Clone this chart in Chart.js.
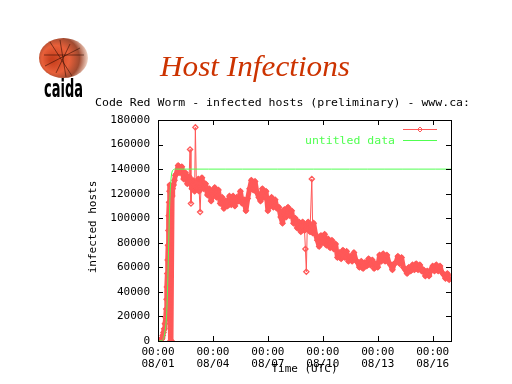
<!DOCTYPE html>
<html>
<head>
<meta charset="utf-8">
<script src="https://cdn.jsdelivr.net/npm/chart.js@4/dist/chart.umd.min.js"></script>
<style>
  html, body { margin: 0; padding: 0; background: #fff; }
  #wrap { position: relative; width: 512px; height: 384px; }
  canvas { position: absolute; left: 0; top: 0; }
</style>
</head>
<body>
<div id="wrap"><canvas id="c" width="512" height="384"></canvas></div>
<script>
// ---- Data ----
const mainTitle = 'Host Infections';
const subTitle = 'Code Red Worm - infected hosts (preliminary) - www.ca:';
const xAxisTitle = 'Time (UTC)';
const yAxisTitle = 'infected hosts';

// x in days since 08/01 00:00 UTC
const xTickDays  = [0, 3, 6, 9, 12, 15];
const xTickTimes = ['00:00', '00:00', '00:00', '00:00', '00:00', '00:00'];
const xTickDates = ['08/01', '08/04', '08/07', '08/10', '08/13', '08/16'];
const yTickValues = [0, 20000, 40000, 60000, 80000, 100000, 120000, 140000, 160000, 180000];

const hostsLabel = '';
const hostDays = [
  0.00, 0.06, 0.12, 0.18, 0.22, 0.26, 0.30, 0.34, 0.38, 0.42, 0.45, 0.47, 0.49, 0.51, 0.53,
  0.55, 0.57, 0.59, 0.61, 0.63, 0.65, 0.68, 0.71, 0.74, 0.77, 0.80, 0.85, 0.90, 0.95,
  1.0, 1.1, 1.2, 1.3, 1.4, 1.5, 1.6, 1.7, 1.75, 1.8, 1.85, 1.9, 2.0, 2.04, 2.1, 2.2, 2.25, 2.3, 2.35,
  2.4, 2.5, 2.6, 2.7, 2.8, 2.9, 3.0, 3.1, 3.2, 3.3, 3.4, 3.5, 3.6, 3.7, 3.8, 3.9,
  4.0, 4.1, 4.2, 4.3, 4.4, 4.5, 4.6, 4.7, 4.8, 4.9, 5.0, 5.1, 5.2, 5.3, 5.4, 5.5, 5.6, 5.7, 5.8, 5.9,
  6.0, 6.1, 6.2, 6.3, 6.4, 6.5, 6.6, 6.7, 6.8, 6.9, 7.0, 7.1, 7.2, 7.3, 7.4, 7.5, 7.6, 7.7, 7.8, 7.9,
  8.0, 8.05, 8.1, 8.15, 8.2, 8.3, 8.4, 8.45, 8.5, 8.6, 8.7, 8.8, 8.9,
  9.0, 9.1, 9.2, 9.3, 9.4, 9.5, 9.6, 9.7, 9.8, 9.9,
  10.0, 10.1, 10.2, 10.3, 10.4, 10.5, 10.6, 10.7, 10.8, 10.9,
  11.0, 11.1, 11.2, 11.3, 11.4, 11.5, 11.6, 11.7, 11.8, 11.9,
  12.0, 12.1, 12.2, 12.3, 12.4, 12.5, 12.6, 12.7, 12.8, 12.9,
  13.0, 13.1, 13.2, 13.3, 13.4, 13.5, 13.6, 13.7, 13.8, 13.9,
  14.0, 14.1, 14.2, 14.3, 14.4, 14.5, 14.6, 14.7, 14.8, 14.9,
  15.0, 15.1, 15.2, 15.3, 15.4, 15.5, 15.6, 15.7, 15.8, 15.9, 15.95
];
const hostCounts = [
  0, 300, 600, 1200, 2500, 4500, 7000, 10000, 14000, 19000, 26000, 34000, 44000, 55000, 66000,
  78000, 90000, 102000, 113000, 122000, 127000, 0, 0, 0, 118000, 124000, 127000, 131000, 135000,
  136000, 143000, 137000, 142000, 132000, 137000, 128000, 134000, 156000, 112000, 124000, 131000, 122000, 174000, 125000, 132000, 122000, 105000, 126000,
  133000, 124000, 128000, 119000, 124000, 114000, 120000, 125000, 117000, 123000, 112000, 117000, 108000, 114000, 110000, 118000,
  111000, 118000, 110000, 117000, 114000, 122000, 112000, 115000, 106000, 116000, 124000, 131000, 123000, 130000, 121000, 117000, 114000, 124000, 117000, 122000,
  106000, 112000, 117000, 109000, 115000, 108000, 109000, 101000, 96000, 107000, 101000, 109000, 102000, 106000, 96000, 100000, 92000, 97000, 89000, 97000,
  90000, 75000, 56400, 92000, 97000, 89000, 132000, 88000, 96000, 87000, 82000, 77000, 86000,
  80000, 87000, 78000, 83000, 76000, 82000, 75000, 79000, 68000, 72000,
  67000, 74000, 68000, 73000, 65000, 69000, 65000, 72000, 66000, 64000,
  60000, 65000, 59000, 64000, 61000, 67000, 62000, 66000, 59000, 63000,
  60000, 70000, 65000, 71000, 65000, 70000, 64000, 62000, 58000, 63000,
  64000, 69000, 63000, 68000, 60000, 58000, 55000, 60000, 57000, 62000,
  58000, 63000, 58000, 62000, 57000, 58000, 53000, 57000, 53000, 58000,
  61000, 57000, 62000, 57000, 61000, 56000, 54000, 51000, 55000, 50000, 52000
];
// isolated single-sample spikes/dips (drawn thin, not part of the dense band)
const spikeDays = [1.75, 1.8, 2.04, 2.3, 8.05, 8.1, 8.4];

const fitLabel = 'untitled data';
const fitDays  = [0, 0.1, 0.2, 0.27, 0.32, 0.37, 0.42, 0.46, 0.5, 0.55, 0.6, 0.64, 0.69, 0.74, 0.8, 0.9, 1.0, 16];
const fitHosts = [0, 100, 300, 1000, 3000, 6500, 12000, 18000, 32000, 58000, 90000, 112000, 128000, 136000, 139000, 140000, 140000, 140000];

// ---- Styles ----
const RED = 'rgb(255,88,88)';
const GREEN = 'rgb(80,255,80)';
const MONO = "'DejaVu Sans Mono', monospace";

const toPoints = (xs, ys) => xs.map((x, i) => ({ x: x, y: ys[i] }));

function fitText(ctx, text, x, y, width) {
  const w = ctx.measureText(text).width;
  ctx.save();
  ctx.translate(x, y);
  ctx.scale(width / w, 1);
  ctx.fillText(text, 0, 0);
  ctx.restore();
}

const decorPlugin = {
  id: 'decor',
  beforeDraw(chart) {
    const ctx = chart.ctx;
    ctx.save();
    ctx.fillStyle = '#fff';
    ctx.fillRect(0, 0, chart.width, chart.height);
    ctx.restore();
  },
  afterDraw(chart) {
    const ctx = chart.ctx;
    const a = chart.chartArea;
    const xs = chart.scales.x, ys = chart.scales.y;
    ctx.save();
    // frame
    ctx.strokeStyle = '#000';
    ctx.lineWidth = 1;
    ctx.strokeRect(Math.round(a.left) + 0.5, Math.round(a.top) + 0.5,
                   Math.round(a.right - a.left), Math.round(a.bottom - a.top));
    // inward ticks, mirrored
    ctx.beginPath();
    const L = 5;
    xTickDays.forEach(v => {
      const px = Math.round(xs.getPixelForValue(v)) + 0.5;
      ctx.moveTo(px, a.bottom); ctx.lineTo(px, a.bottom - L);
      ctx.moveTo(px, a.top); ctx.lineTo(px, a.top + L);
    });
    yTickValues.forEach(v => {
      const py = Math.round(ys.getPixelForValue(v)) + 0.5;
      ctx.moveTo(a.left, py); ctx.lineTo(a.left + L, py);
      ctx.moveTo(a.right, py); ctx.lineTo(a.right - L, py);
    });
    ctx.stroke();

    // legend (gnuplot style, inside top right)
    const lx0 = 403, lx1 = 437;
    ctx.strokeStyle = RED;
    ctx.beginPath(); ctx.moveTo(lx0, 129.5); ctx.lineTo(lx1, 129.5); ctx.stroke();
    ctx.beginPath();
    ctx.moveTo(420, 127); ctx.lineTo(422.5, 129.5); ctx.lineTo(420, 132); ctx.lineTo(417.5, 129.5); ctx.closePath();
    ctx.stroke();
    ctx.fillStyle = RED; ctx.font = '11px ' + MONO; ctx.textAlign = 'right'; ctx.textBaseline = 'middle';
    ctx.fillText(chart.data.datasets[0].label, 396, 129.5);
    ctx.strokeStyle = GREEN;
    ctx.beginPath(); ctx.moveTo(lx0, 140.5); ctx.lineTo(lx1, 140.5); ctx.stroke();
    ctx.fillStyle = GREEN;
    ctx.textAlign = 'left';
    fitText(ctx, chart.data.datasets[2].label, 305, 141, 90);

    // axis titles
    ctx.fillStyle = '#000';
    ctx.textAlign = 'center';
    ctx.fillText(xAxisTitle, (a.left + a.right) / 2, 369);
    ctx.save();
    ctx.translate(93, 227);
    ctx.rotate(-Math.PI / 2);
    ctx.fillText(yAxisTitle, 0, 0);
    ctx.restore();

    // subtitle
    ctx.font = '11px ' + MONO;
    ctx.textAlign = 'left';
    fitText(ctx, subTitle, 95, 103, 375);

    // main title
    ctx.font = "italic 30px 'Liberation Serif', 'DejaVu Serif', serif";
    ctx.fillStyle = '#cc3300';
    ctx.textAlign = 'left';
    ctx.textBaseline = 'alphabetic';
    fitText(ctx, mainTitle, 160, 76, 190);

    // logo
    const g = ctx.createRadialGradient(52, 60, 2, 60, 58, 28);
    g.addColorStop(0, '#c8401e');
    g.addColorStop(0.45, '#e8603a');
    g.addColorStop(0.75, '#a04a30');
    g.addColorStop(1, '#f3d6c8');
    ctx.fillStyle = g;
    ctx.beginPath();
    ctx.ellipse(63.5, 58, 24.5, 20, 0, 0, Math.PI * 2);
    ctx.fill();
    ctx.strokeStyle = 'rgba(40,10,0,0.55)';
    ctx.beginPath();
    ctx.moveTo(50, 42); ctx.lineTo(72, 76);
    ctx.moveTo(44, 55); ctx.lineTo(84, 55);
    ctx.moveTo(60, 40); ctx.lineTo(66, 77);
    ctx.moveTo(70, 44); ctx.lineTo(56, 73);
    ctx.moveTo(45, 66); ctx.lineTo(80, 48);
    ctx.stroke();
    ctx.save();
    ctx.fillStyle = '#000';
    ctx.font = "bold 18px 'DejaVu Sans Condensed', 'DejaVu Sans', sans-serif";
    ctx.textAlign = 'left';
    ctx.textBaseline = 'alphabetic';
    const cw = ctx.measureText('caida').width;
    ctx.translate(44, 97);
    ctx.scale(39 / cw, 1.35);
    ctx.fillText('caida', 0, 0);
    ctx.restore();

    ctx.restore();
  }
};

const hostPoints = toPoints(hostDays, hostCounts);
const bandPoints = hostPoints.filter(p => !spikeDays.includes(p.x));

new Chart(document.getElementById('c'), {
  type: 'scatter',
  data: {
    datasets: [
      {
        label: hostsLabel,
        data: hostPoints,
        showLine: true,
        borderColor: RED,
        borderWidth: 1,
        pointStyle: 'rectRot',
        pointRadius: 2.6,
        pointBorderColor: RED,
        pointBackgroundColor: 'rgba(0,0,0,0)',
        pointBorderWidth: 1.3,
        tension: 0,
        order: 2
      },
      {
        label: '',
        data: bandPoints,
        showLine: true,
        borderColor: RED,
        borderWidth: 5,
        borderJoinStyle: 'round',
        pointRadius: 0,
        tension: 0,
        order: 3
      },
      {
        label: fitLabel,
        data: toPoints(fitDays, fitHosts),
        showLine: true,
        borderColor: GREEN,
        borderWidth: 1,
        pointRadius: 0,
        tension: 0.3,
        order: 1
      }
    ]
  },
  options: {
    responsive: false,
    animation: false,
    devicePixelRatio: 1,
    layout: { padding: { top: 120, right: 61, left: 0, bottom: 0 } },
    plugins: { legend: { display: false }, tooltip: { enabled: false } },
    scales: {
      x: {
        type: 'linear',
        min: 0, max: 16,
        grid: { display: false, drawTicks: false },
        border: { display: false },
        afterFit: s => { s.height = 43; },
        afterBuildTicks: s => { s.ticks = xTickDays.map(v => ({ value: v })); },
        ticks: {
          padding: 5,
          maxRotation: 0,
          autoSkip: false,
          color: '#000',
          font: { family: MONO, size: 11, lineHeight: 1.1 },
          callback: v => {
            const i = xTickDays.indexOf(v);
            return i >= 0 ? [xTickTimes[i], xTickDates[i]] : '';
          }
        }
      },
      y: {
        min: 0, max: 180000,
        grid: { display: false, drawTicks: false },
        border: { display: false },
        afterFit: s => { s.width = 158; },
        afterBuildTicks: s => { s.ticks = yTickValues.map(v => ({ value: v })); },
        ticks: {
          padding: 8,
          color: '#000',
          font: { family: MONO, size: 11 },
          callback: v => String(v)
        }
      }
    }
  },
  plugins: [decorPlugin]
});
</script>
</body>
</html>
